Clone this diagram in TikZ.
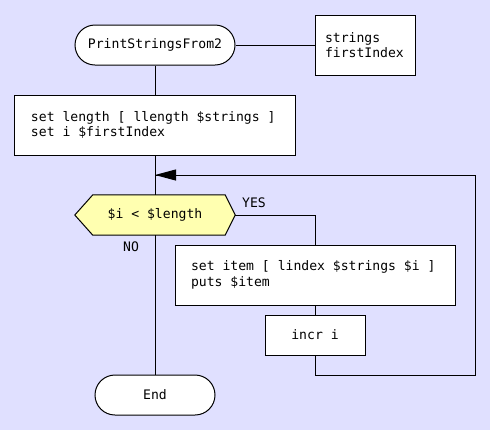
\documentclass[tikz,border=0pt]{standalone}
\usepackage{fontspec}
\setmainfont{DejaVu Sans Mono}
\newfontfamily\codefam{DejaVu Sans Mono}
\usetikzlibrary{arrows.meta,calc}
\definecolor{bg}{RGB}{224,224,255}
\definecolor{decfill}{RGB}{255,255,176}
\newcommand{\codefont}{\codefam\fontsize{13.1bp}{15.5bp}\selectfont}
\newcommand{\fixsp}{\spaceskip=0pt\xspaceskip=0pt\relax}
\begin{document}
\begin{tikzpicture}[x=1bp,y=-1bp,
  every node/.style={font=\codefont},
  ln/.style={draw=black,line width=1bp},
  term/.style={ln,fill=white,rounded corners=20bp,minimum height=40bp,inner sep=0pt},
  codebox/.style={ln,fill=white,rectangle,minimum height=60bp,inner xsep=16bp,align=flush left},
  smallbox/.style={ln,fill=white,rectangle,minimum width=100bp,minimum height=40bp,inner sep=0pt},
  lbl/.style={inner sep=0pt}
]
\useasboundingbox[fill=bg] (0,0) rectangle (490,430);

% nodes
\node[term,minimum width=160bp] (start) at (155,45) {PrintStringsFrom2};
\node[ln,fill=white,rectangle,minimum width=100bp,minimum height=60bp,inner xsep=10bp,text width=80bp,align=flush left] (params) at (365,45) {strings\\firstIndex};
\node[codebox,text width=248bp] (init) at (155,125) {\fixsp set length [ llength \$strings ]\\set i \$firstIndex};
\node[minimum width=160bp,minimum height=40bp,inner sep=0pt] (dec) at (155,215) {};
\node[codebox,text width=248bp] (body) at (315,275) {\fixsp set item [ lindex \$strings \$i ]\\puts \$item};
\node[smallbox] (incr) at (315,335) {incr i};
\node[term,minimum width=120bp] (end) at (155,395) {End};

% decision hexagon
\draw[ln,fill=decfill] (dec.west) -- ($(dec.north west)+(18,0)$) -- ($(dec.north east)+(-10,0)$) -- (dec.east)
  -- ($(dec.south east)+(-10,0)$) -- ($(dec.south west)+(18,0)$) -- cycle;
\node at (dec) {\$i < \$length};

\node[lbl] (yes) at (254,203) {YES};
\node[lbl] (no) at (131,247) {NO};

% coordinates
\coordinate (join) at (155,175);
\coordinate (c1) at (315,375);
\coordinate (c2) at (475,375);
\coordinate (c3) at (475,175);

% connectors
\draw[ln] (start.east) -- (params.west);
\draw[ln] (start.south) -- (init.north);
\draw[ln] (init.south) -- (dec.north);
\draw[ln] (dec.east) -| (body.north);
\draw[ln] (body.south) -- (incr.north);
\draw[ln] (dec.south) -- (end.north);
\draw[ln] (incr.south) -- (c1) -- (c2) -- (c3) -- (join);
\draw[ln,-{Triangle[length=21bp,width=11bp]}] (c3) -- (join);
\end{tikzpicture}
\end{document}
